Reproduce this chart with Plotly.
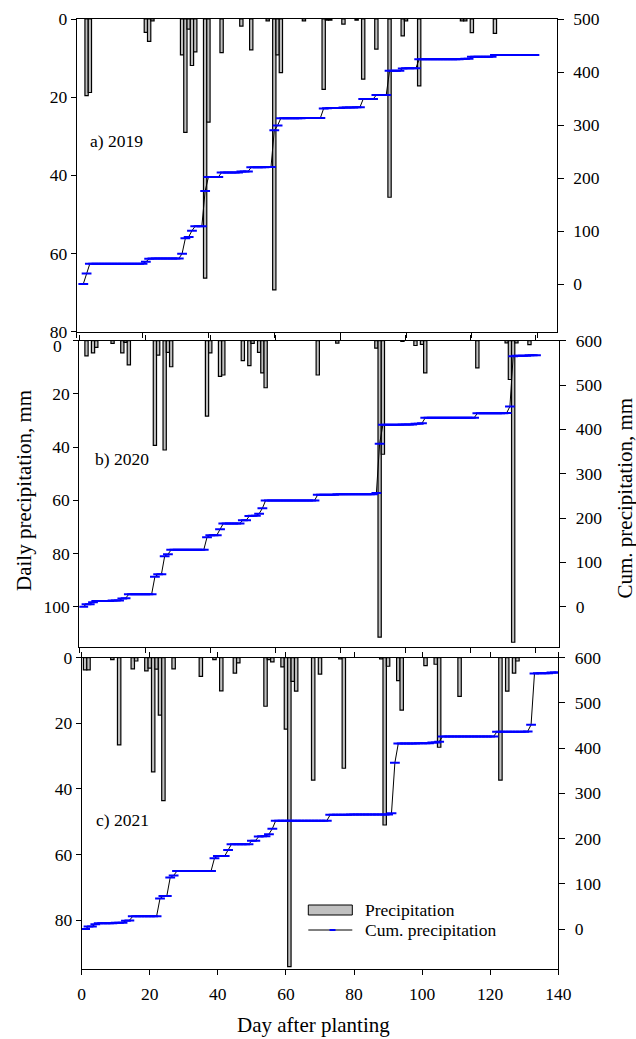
import numpy as np
import plotly.graph_objects as go

# ---------------- data ----------------
# Daily precipitation, mm, by day after planting
days_2019 = [3, 4, 21, 22, 23, 32, 33, 34, 35, 36, 39, 40, 44, 50, 53, 58, 60, 61, 62,
             69, 75, 76, 77, 81, 85, 87, 91, 95, 99, 100, 104, 117, 118, 120, 127]
prec_2019 = [19.6, 18.8, 3.4, 5.7, 0.5, 9.2, 29.0, 2.6, 11.9, 8.4, 66.3, 26.4, 8.6, 1.8,
             7.9, 0.5, 69.3, 9.2, 13.7, 0.5, 18.0, 0.3, 0.3, 1.3, 0.3, 15.4, 7.7, 45.6,
             4.3, 0.5, 17.1, 0.5, 0.5, 3.5, 3.7]

days_2020 = [2, 4, 5, 10, 13, 14, 15, 23, 24, 26, 27, 28, 39, 40, 43, 44, 50, 52, 53, 55,
             56, 57, 73, 79, 91, 92, 93, 99, 103, 105, 106, 122, 131, 132, 133, 134, 138]
prec_2020 = [5.7, 4.6, 2.5, 1.0, 4.6, 0.6, 9.1, 39.4, 5.4, 41.1, 4.4, 9.8, 28.4, 4.6, 13.4,
             12.9, 7.5, 9.4, 1.0, 4.4, 12.1, 17.7, 12.9, 0.9, 2.8, 111.5, 42.7, 0.3, 1.8,
             1.4, 12.1, 10.2, 0.8, 14.6, 113.4, 0.8, 1.5]

days_2021 = [1, 2, 9, 11, 15, 16, 19, 20, 21, 22, 23, 24, 27, 35, 39, 41, 45, 46, 54, 55,
             56, 59, 60, 61, 62, 63, 68, 70, 76, 77, 88, 89, 90, 93, 94, 101, 104, 105,
             111, 123, 125, 127, 128]
prec_2021 = [3.7, 3.7, 0.6, 26.6, 3.4, 1.0, 4.0, 3.2, 34.8, 3.5, 17.5, 43.6, 3.4, 5.7, 0.6,
             10.1, 4.7, 1.6, 14.8, 0.6, 1.3, 2.8, 21.8, 94.2, 7.2, 10.2, 37.3, 5.0, 0.4,
             33.7, 0.4, 51.0, 2.6, 7.0, 16.0, 2.4, 2.0, 27.3, 11.8, 37.3, 10.2, 4.7, 1.0]

# Span of days over which the cumulative curve is drawn in each panel
cum_span_2019 = (2, 139)
cum_span_2020 = (1, 140)
cum_span_2021 = (1, 140)

panel_labels = ["a) 2019", "b) 2020", "c) 2021"]
x_ticks = [0, 20, 40, 60, 80, 100, 120, 140]
left_ticks = [[0, 20, 40, 60, 80], [0, 20, 40, 60, 80, 100], [0, 20, 40, 60, 80]]
right_ticks = [[0, 100, 200, 300, 400, 500], [0, 100, 200, 300, 400, 500, 600],
               [0, 100, 200, 300, 400, 500, 600]]


def cumulative(days, vals, span):
    d = np.arange(span[0], span[1] + 1)
    daily = np.zeros(len(d))
    for dd, v in zip(days, vals):
        daily[dd - span[0]] += v
    return d, np.cumsum(daily)


cum_2019 = cumulative(days_2019, prec_2019, cum_span_2019)
cum_2020 = cumulative(days_2020, prec_2020, cum_span_2020)
# In the original figure the 2021 panel's cumulative curve repeats the 2020 totals
cum_2021 = cumulative(days_2020, prec_2020, cum_span_2021)

bars = [(days_2019, prec_2019), (days_2020, prec_2020), (days_2021, prec_2021)]
cums = [cum_2019, cum_2020, cum_2021]

# ---------------- layout geometry (pixels of a 636x1039 page) ----------------
W, H = 636, 1039
px_x = [(76.7, 556.7), (79.3, 559.3), (81.7, 558.3)]
px_y = [(19.0, 331.7), (340.7, 647.3), (657.7, 969.3)]
x_ranges = [[0, 145.76], [-0.21, 147.16], [0, 140]]
left_ranges = [[80, 0], [115.3, 0], [95.0, 0]]
right_ranges = [[-90, 500], [-91.6, 600], [-89.1, 600]]

FONT = "Liberation Serif"
TICKF = dict(family=FONT, size=17.5, color="black")
BAR_FILL = "#c0c0c0"
BLUE = "#0000ff"

fig = go.Figure()
layout = dict(
    width=W, height=H, autosize=False,
    margin=dict(l=0, r=0, t=0, b=0, pad=0, autoexpand=False),
    paper_bgcolor="white", plot_bgcolor="white", showlegend=False,
    font=dict(family=FONT, size=17.5, color="black"),
)

for i in range(3):
    xa = "x" if i == 0 else f"x{i + 1}"
    yl = "y" if i == 0 else f"y{2 * i + 1}"
    yr = f"y{2 * i + 2}"
    bd, bv = bars[i]
    fig.add_trace(go.Bar(x=bd, y=bv, xaxis=xa, yaxis=yl, width=1.0,
                         marker=dict(color=BAR_FILL, line=dict(color="black", width=1.2)),
                         name="Precipitation"))
    cd, cv = cums[i]
    fig.add_trace(go.Scatter(x=cd, y=cv, xaxis=xa, yaxis=yr, mode="lines+markers",
                             line=dict(color="black", width=1),
                             marker=dict(symbol="line-ew", size=7,
                                         line=dict(color=BLUE, width=2)),
                             name="Cum. precipitation"))

    xd = [px_x[i][0] / W, px_x[i][1] / W]
    yd = [1 - px_y[i][1] / H, 1 - px_y[i][0] / H]
    xkey = "xaxis" if i == 0 else f"xaxis{i + 1}"
    ylkey = "yaxis" if i == 0 else f"yaxis{2 * i + 1}"
    yrkey = f"yaxis{2 * i + 2}"
    # the top "0" of panel b sits a little lower in the original; drawn separately below
    lt_text = [("" if (i == 1 and t == 0) else str(t)) for t in left_ticks[i]]
    layout[xkey] = dict(domain=xd, range=x_ranges[i], anchor=yl, tickvals=x_ticks,
                        showticklabels=(i == 2), ticks="outside", ticklen=5,
                        tickcolor="black", showline=True, linecolor="black", linewidth=1,
                        mirror=(True if i == 0 else "ticks"), showgrid=False,
                        zeroline=False, tickfont=TICKF, automargin=False,
                        ticklabelstandoff=4)
    layout[ylkey] = dict(domain=yd, range=left_ranges[i], anchor=xa,
                         tickvals=left_ticks[i], ticktext=lt_text, ticks="outside",
                         ticklen=5, tickcolor="black", showline=True, linecolor="black",
                         linewidth=1, showgrid=False, zeroline=False, tickfont=TICKF,
                         automargin=False)
    layout[yrkey] = dict(overlaying=yl, side="right", anchor=xa, range=right_ranges[i],
                         tickvals=right_ticks[i], ticks="outside", ticklen=6,
                         tickcolor="black", showline=True, linecolor="black",
                         linewidth=1, showgrid=False, zeroline=False, tickfont=TICKF,
                         automargin=False, ticklabelstandoff=6)

annotations = [
    dict(text="Daily precipitation, mm", x=24 / W, y=1 - 491 / H, xref="paper",
         yref="paper", textangle=-90, showarrow=False, font=dict(size=21),
         xanchor="center", yanchor="middle"),
    dict(text="Cum. precipitation, mm", x=624.5 / W, y=1 - 498 / H, xref="paper",
         yref="paper", textangle=-90, showarrow=False, font=dict(size=21),
         xanchor="center", yanchor="middle"),
    dict(text="Day after planting", x=313.5 / W, y=1 - 1025 / H, xref="paper",
         yref="paper", showarrow=False, font=dict(size=21), xanchor="center",
         yanchor="middle"),
    dict(text="0", x=63.5 / W, y=1 - 346 / H, xref="paper", yref="paper",
         showarrow=False, xanchor="right", yanchor="middle", font=dict(size=17.5)),
]
label_pos = [(87.7, 141), (92.7, 459), (94.3, 820)]
for lab, (lx, ly) in zip(panel_labels, label_pos):
    annotations.append(dict(text=lab, x=lx / W, y=1 - ly / H, xref="paper", yref="paper",
                            showarrow=False, xanchor="left", yanchor="middle",
                            font=dict(size=17.5)))
# legend texts
annotations.append(dict(text="Precipitation", x=363 / W, y=1 - 910 / H, xref="paper",
                        yref="paper", showarrow=False, xanchor="left", yanchor="middle",
                        font=dict(size=17.5)))
annotations.append(dict(text="Cum. precipitation", x=363 / W, y=1 - 930 / H, xref="paper",
                        yref="paper", showarrow=False, xanchor="left", yanchor="middle",
                        font=dict(size=17.5)))
layout["annotations"] = annotations

layout["shapes"] = [
    dict(type="rect", xref="paper", yref="paper", x0=308.3 / W, x1=352.3 / W,
         y0=1 - 915 / H, y1=1 - 905 / H, fillcolor=BAR_FILL,
         line=dict(color="black", width=1)),
    dict(type="line", xref="paper", yref="paper", x0=308.3 / W, x1=352.3 / W,
         y0=1 - 930 / H, y1=1 - 930 / H, line=dict(color="black", width=1)),
    dict(type="line", xref="paper", yref="paper", x0=329.5 / W, x1=335.5 / W,
         y0=1 - 930 / H, y1=1 - 930 / H, line=dict(color=BLUE, width=2)),
]

fig.update_layout(**layout)
fig.write_html("out.html")
